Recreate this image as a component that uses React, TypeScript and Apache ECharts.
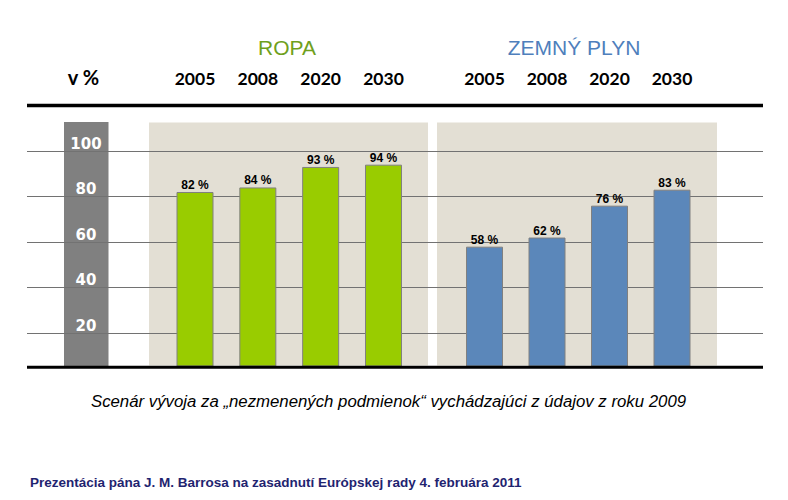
import React, { useEffect, useRef } from "react";
import * as echarts from "echarts";

const years = ["2005", "2008", "2020", "2030"];
const ropaValues = [82, 84, 93, 94];
const plynValues = [58, 62, 76, 83];
const yTicks = [0, 20, 40, 60, 80, 100];
const groupTitles = ["ROPA", "ZEMNÝ PLYN"];
const unitLabel = "v %";
const caption = "Scenár vývoja za „nezmenených podmienok“ vychádzajúci z údajov z roku 2009";
const footer = "Prezentácia pána J. M. Barrosa na zasadnutí Európskej rady 4. februára 2011";

const yearFont = "Lato, 'Open Sans', sans-serif";
const arial = "'Liberation Sans', Arial, sans-serif";

export default function App() {
  const ref = useRef<HTMLDivElement>(null);
  useEffect(() => {
    if (!ref.current) return;
    const chart = echarts.init(ref.current, undefined, { renderer: "svg" });
    const barYAxis = (gridIndex: number) => ({
      type: "value" as const,
      gridIndex,
      min: 5.6,
      max: 100,
      show: false,
      splitLine: { show: false },
    });
    const yearAxis = (gridIndex: number) => ({
      type: "category" as const,
      gridIndex,
      data: years,
      position: "top" as const,
      axisLine: { show: false },
      axisTick: { show: false },
      axisLabel: {
        margin: 73,
        verticalAlign: "middle" as const,
        fontFamily: yearFont,
        fontWeight: "bold" as const,
        fontSize: 17.5,
        color: "#000",
      },
    });
    const barLabel = {
      show: true,
      position: "top" as const,
      distance: 1,
      formatter: "{c} %",
      fontFamily: arial,
      fontWeight: "bold" as const,
      fontSize: 12,
      color: "#000",
    };
    chart.setOption({
      animation: false,
      backgroundColor: "#ffffff",
      grid: [
        { left: 27, top: 151, width: 736, height: 227.75, containLabel: false },
        { left: 163.6, top: 151, width: 251.3, height: 215, containLabel: false },
        { left: 453.25, top: 151, width: 250, height: 215, containLabel: false },
      ],
      xAxis: [
        { type: "value", gridIndex: 0, show: false, min: 0, max: 1 },
        yearAxis(1),
        yearAxis(2),
      ],
      yAxis: [
        {
          type: "value",
          gridIndex: 0,
          min: yTicks[0],
          max: yTicks[yTicks.length - 1],
          interval: 20,
          axisLine: { show: false },
          axisTick: { show: false },
          splitLine: {
            show: true,
            lineStyle: {
              color: ["rgba(0,0,0,0)", "#727272", "#727272", "#727272", "#727272", "#727272"],
              width: 1,
            },
          },
          axisLabel: {
            inside: true,
            margin: 59,
            align: "center",
            verticalAlign: "bottom",
            showMinLabel: false,
            fontFamily: "'DejaVu Sans', Verdana, sans-serif",
            fontWeight: "bold",
            fontSize: 15,
            color: "#ffffff",
          },
        },
        barYAxis(1),
        barYAxis(2),
      ],
      series: [
        {
          type: "bar",
          xAxisIndex: 1,
          yAxisIndex: 1,
          data: ropaValues,
          barWidth: 37,
          itemStyle: { color: "#99cc00", borderColor: "#808080", borderWidth: 1 },
          label: barLabel,
        },
        {
          type: "bar",
          xAxisIndex: 2,
          yAxisIndex: 2,
          data: plynValues,
          barWidth: 37,
          itemStyle: { color: "#5b87ba", borderColor: "#808080", borderWidth: 1 },
          label: barLabel,
        },
      ],
      graphic: [
        { type: "rect", z: -10, shape: { x: 64, y: 122, width: 44.5, height: 244 }, style: { fill: "#808080" } },
        { type: "rect", z: -10, shape: { x: 149, y: 122.5, width: 279, height: 243 }, style: { fill: "#e3dfd4" } },
        { type: "rect", z: -10, shape: { x: 437, y: 122.5, width: 280, height: 243 }, style: { fill: "#e3dfd4" } },
        { type: "line", z: 50, shape: { x1: 27, y1: 105.5, x2: 763, y2: 105.5 }, style: { stroke: "#000", lineWidth: 3.5 } },
        { type: "line", z: 50, shape: { x1: 27, y1: 367.3, x2: 763, y2: 367.3 }, style: { stroke: "#000", lineWidth: 3 } },
        {
          type: "text", z: 50, x: 287, y: 47.5,
          style: { text: groupTitles[0], fill: "#6fa01c", font: `21px ${arial}`, textAlign: "center", textVerticalAlign: "middle" },
        },
        {
          type: "text", z: 50, x: 574, y: 47.5,
          style: { text: groupTitles[1], fill: "#4f7fbc", font: `21px ${arial}`, textAlign: "center", textVerticalAlign: "middle" },
        },
        {
          type: "text", z: 50, x: 83.5, y: 77,
          style: { text: unitLabel, fill: "#000", font: `bold 20px ${yearFont}`, textAlign: "center", textVerticalAlign: "middle" },
        },
        {
          type: "text", z: 50, x: 388.5, y: 401,
          style: { text: caption, fill: "#000", font: `italic 16.8px ${arial}`, textAlign: "center", textVerticalAlign: "middle" },
        },
        {
          type: "text", z: 50, x: 30, y: 482,
          style: { text: footer, fill: "#1f2470", font: `bold 13.5px ${arial}`, textAlign: "left", textVerticalAlign: "middle" },
        },
      ],
    });
    return () => chart.dispose();
  }, []);
  return <div ref={ref} style={{ width: 788, height: 500, margin: -8 }} />;
}
